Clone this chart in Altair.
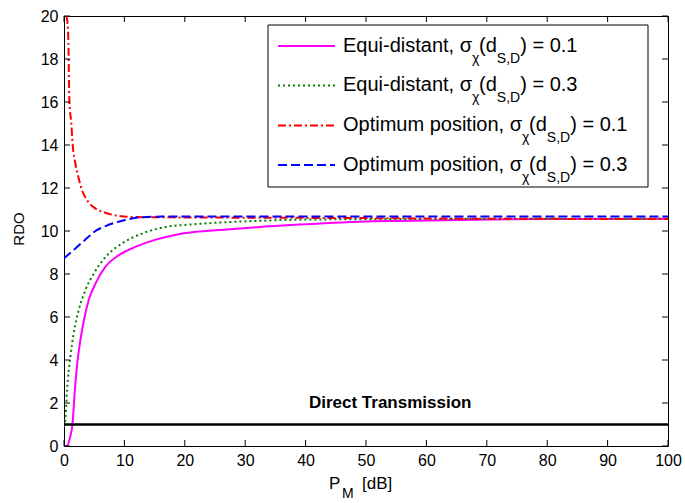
import altair as alt
import pandas as pd

# ---------------- data ----------------
x_ticks = list(range(0, 101, 10))
y_ticks = list(range(0, 21, 2))

# Equi-distant, sigma = 0.1 (magenta, solid)
eq1_x = [0, 0.5, 1.0, 1.4, 1.8, 2.2, 2.7, 3.3, 4.1, 5.2, 6.9, 9.1, 11.9, 15.2, 18.6, 21.5, 27, 32, 39, 46, 55, 71, 85, 100]
eq1_y = [0, 0, 0.4, 1.0, 2.6, 3.85, 4.9, 5.85, 6.8, 7.55, 8.35, 8.88, 9.27, 9.6, 9.83, 9.95, 10.07, 10.18, 10.3, 10.4, 10.47, 10.54, 10.56, 10.57]

# Equi-distant, sigma = 0.3 (green, dotted)
eq3_x = [0, 0.22, 0.5, 1.06, 1.6, 2.44, 3.56, 4.94, 6.9, 9.67, 13, 16.3, 20.8, 25, 32, 40, 60, 80, 100]
eq3_y = [0.9, 1.2, 2.6, 4.15, 5.24, 6.33, 7.26, 8.03, 8.8, 9.43, 9.89, 10.16, 10.3, 10.38, 10.47, 10.53, 10.56, 10.57, 10.57]

# Optimum position, sigma = 0.1 (red, dash-dot)
op1_x = [0.45, 0.72, 0.83, 0.9, 1.21, 1.44, 1.88, 2.43, 2.98, 3.8, 5.19, 6.84, 9.05, 11.3, 15, 20, 30, 50, 70, 100]
op1_y = [20, 18.9, 16.9, 16.0, 15.0, 14.0, 13.15, 12.45, 11.9, 11.44, 11.05, 10.85, 10.7, 10.65, 10.64, 10.63, 10.62, 10.6, 10.57, 10.56]

# Optimum position, sigma = 0.3 (blue, dashed)
op3_x = [0, 1.9, 4.1, 5.2, 6.9, 9.67, 12.4, 16.3, 25, 40, 60, 80, 100]
op3_y = [8.73, 9.19, 9.74, 10.0, 10.23, 10.48, 10.63, 10.67, 10.68, 10.68, 10.68, 10.67, 10.67]

# Direct transmission reference
dt_x = [0, 100]
dt_y = [1, 1]
dt_label = "Direct Transmission"

legend_names = ["Equi-distant", "Equi-distant", "Optimum position", "Optimum position"]
legend_sigmas = ["0.1", "0.3", "0.1", "0.3"]
x_title = ["P", "M", "[dB]"]
y_title = "RDO"

# ---------------- styling / layout ----------------
FONT = "Liberation Sans"
W, H = 604, 430
COLORS = ["#FF00FF", "#008000", "#FF0000", "#0000FF"]
DASHES = [None, [2, 3], [8, 3, 2, 3], [9, 4]]

CW = {'E': .667, 'q': .556, 'u': .556, 'i': .222, '-': .333, 'd': .556, 's': .5, 't': .278,
      'a': .556, 'n': .556, ',': .278, ' ': .278, 'σ': .617, 'O': .778, 'p': .556, 'm': .833,
      'o': .556, '(': .333, ')': .333, '=': .584, '0': .556, '.': .278, '1': .556, '3': .556,
      'S': .667, 'D': .722, 'χ': .5, 'P': .667, 'M': .833, '[': .278, ']': .278, 'B': .667}


def text_w(s, size):
    return sum(CW.get(c, .556) for c in s) * size


xscale = alt.Scale(domain=[0, 100], nice=False, zero=False)
yscale = alt.Scale(domain=[0, 20], nice=False, zero=False)
xaxis = alt.Axis(values=x_ticks, ticks=False, domain=False, grid=False, title=None,
                 labelFontSize=16, labelFont=FONT, labelColor="black", labelPadding=6,
                 labelFlush=False, labelOverlap=False)
yaxis = alt.Axis(values=y_ticks, ticks=False, domain=False, grid=False, title=None,
                 labelFontSize=16, labelFont=FONT, labelColor="black", labelPadding=6,
                 labelOverlap=False)


def X(f):
    return alt.X(f"{f}:Q", scale=xscale, axis=xaxis)


def Y(f):
    return alt.Y(f"{f}:Q", scale=yscale, axis=yaxis)


layers = []

# curves
for (xs, ys), col, dash in zip([(eq1_x, eq1_y), (eq3_x, eq3_y), (op1_x, op1_y), (op3_x, op3_y)],
                               COLORS, DASHES):
    kw = dict(color=col, strokeWidth=2, clip=True, interpolate="monotone")
    if dash:
        kw["strokeDash"] = dash
    layers.append(alt.Chart(pd.DataFrame({"x": xs, "y": ys})).mark_line(**kw).encode(x=X("x"), y=Y("y")))

# direct transmission line + label
layers.append(alt.Chart(pd.DataFrame({"x": dt_x, "y": dt_y})).mark_line(color="black", strokeWidth=2.5)
              .encode(x=X("x"), y=Y("y")))
layers.append(alt.Chart(pd.DataFrame({"x": [54], "y": [2.0], "t": [dt_label]}))
              .mark_text(font=FONT, fontSize=17, fontWeight="bold", color="black", align="center", baseline="middle")
              .encode(x=X("x"), y=Y("y"), text="t:N"))

# inward ticks on all four sides
xt = pd.DataFrame({"v": x_ticks})
yt = pd.DataFrame({"v": y_ticks})
TL = 6
layers.append(alt.Chart(xt).mark_rule(color="black", strokeWidth=1)
              .encode(x=X("v"), y=alt.value(H), y2=alt.value(H - TL)))
layers.append(alt.Chart(xt).mark_rule(color="black", strokeWidth=1)
              .encode(x=X("v"), y=alt.value(0), y2=alt.value(TL)))
layers.append(alt.Chart(yt).mark_rule(color="black", strokeWidth=1)
              .encode(y=Y("v"), x=alt.value(0), x2=alt.value(TL)))
layers.append(alt.Chart(yt).mark_rule(color="black", strokeWidth=1)
              .encode(y=Y("v"), x=alt.value(W), x2=alt.value(W - TL)))

# legend box
one = pd.DataFrame({"k": [0]})
layers.append(alt.Chart(one).mark_rect(fill="white", stroke="black", strokeWidth=1)
              .encode(x=alt.value(204), x2=alt.value(584), y=alt.value(9), y2=alt.value(171)))

MAIN, SUB, SUBDY = 20, 14, 11
row_base = [35.5, 75, 115, 154.5]
for i, (name, sig) in enumerate(zip(legend_names, legend_sigmas)):
    ly = row_base[i] - 5.5
    kw = dict(color=COLORS[i], strokeWidth=2)
    if DASHES[i]:
        kw["strokeDash"] = DASHES[i]
    layers.append(alt.Chart(one).mark_rule(**kw)
                  .encode(x=alt.value(214), x2=alt.value(271), y=alt.value(ly)))
    segs = [(name + ", σ", False), ("χ", True), ("(d", False), ("S,D", True), (") = " + sig, False)]
    px = 279
    for s, is_sub in segs:
        size = SUB if is_sub else MAIN
        py = row_base[i] + (SUBDY if is_sub else 0)
        layers.append(alt.Chart(pd.DataFrame({"t": [s]}))
                      .mark_text(font=FONT, fontSize=size, color="black", align="left", baseline="alphabetic")
                      .encode(x=alt.value(px), y=alt.value(py), text="t:N"))
        px += text_w(s, size)

# x title with subscript
for s, xpos, size, py in zip(x_title, [265, 278, 298], [17, 14, 17], [473, 482, 473]):
    layers.append(alt.Chart(pd.DataFrame({"t": [s]}))
                  .mark_text(font=FONT, fontSize=size, color="black", align="left", baseline="alphabetic")
                  .encode(x=alt.value(xpos), y=alt.value(py), text="t:N"))

# y title
layers.append(alt.Chart(pd.DataFrame({"t": [y_title]}))
              .mark_text(font=FONT, fontSize=15, color="black", align="center", baseline="middle", angle=270)
              .encode(x=alt.value(-45), y=alt.value(213), text="t:N"))

chart = alt.layer(*layers).properties(
    width=W, height=H,
    autosize=alt.AutoSizeParams(type="none"),
    padding={"left": 64, "top": 16, "right": 17, "bottom": 57},
    background="white",
).configure_view(stroke="black", strokeWidth=1)

chart.save("out.html", embed_options={"renderer": "svg", "actions": False})
